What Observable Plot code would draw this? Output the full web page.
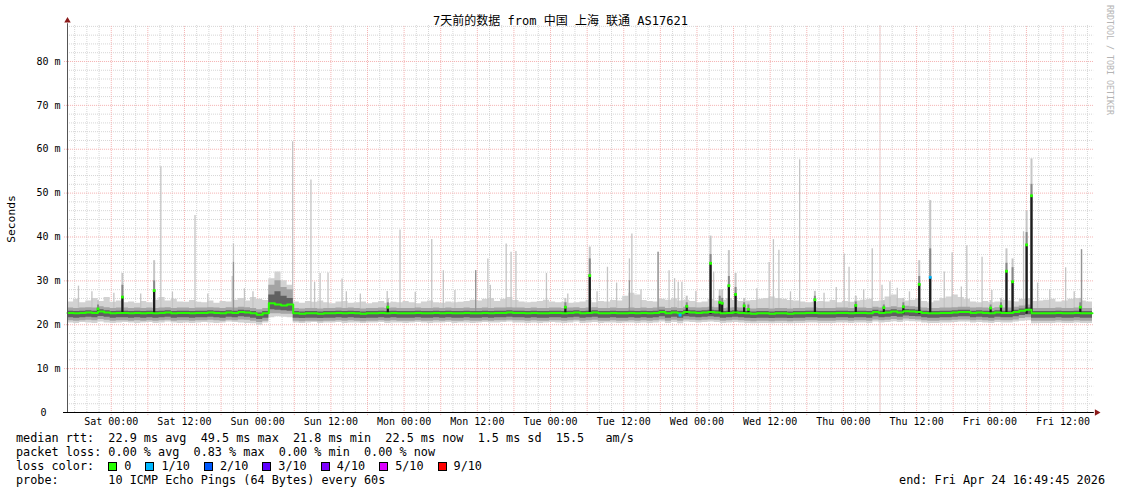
<!DOCTYPE html>
<html><head><meta charset="utf-8">
<script src="https://cdn.jsdelivr.net/npm/d3@7"></script>
<script src="https://cdn.jsdelivr.net/npm/@observablehq/plot@0.6"></script>
<style>
body{margin:0;background:#fff;}
#wrap{position:relative;width:1121px;height:494px;overflow:hidden;background:#fff;font-family:"DejaVu Sans Mono",monospace;color:#000;}
#chart{position:absolute;left:0;top:0;}
.title{position:absolute;left:0;width:1121px;top:13px;text-align:center;font-size:12px;line-height:16px;font-family:"DejaVu Sans Mono","Noto Sans CJK SC",monospace;white-space:pre;}
.ylab{position:absolute;left:11px;top:219px;transform:translate(-50%,-50%) rotate(-90deg);font-size:11.3px;white-space:nowrap;}
.credit{position:absolute;left:1110px;top:60px;transform:translate(-50%,-50%) rotate(90deg);font-size:8.3px;color:#b4b4b4;white-space:nowrap;}
.row{position:absolute;left:16px;font-size:11.8px;line-height:14px;white-space:pre;}
.end{position:absolute;right:16px;font-size:11.8px;line-height:14px;white-space:pre;}
.sw{display:inline-block;width:7px;height:7px;border:1px solid #000;vertical-align:-1px;margin-right:7px;}
.lab{display:inline-block;margin-right:14px;}
</style>
</head><body>
<div id="wrap"></div>
<script>
// ---------- data ----------
const titleText = "7天前的数据 from 中国 上海 联通 AS17621";
const yAxisLabel = "Seconds";
const creditText = "RRDTOOL / TOBI OETIKER";
const startTime = "2026-04-17T16:49:45";
const xTickTimes = ["2026-04-18T00:00","2026-04-18T12:00","2026-04-19T00:00","2026-04-19T12:00","2026-04-20T00:00","2026-04-20T12:00","2026-04-21T00:00","2026-04-21T12:00","2026-04-22T00:00","2026-04-22T12:00","2026-04-23T00:00","2026-04-23T12:00","2026-04-24T00:00","2026-04-24T12:00"];
const xTickLabels = ["Sat 00:00","Sat 12:00","Sun 00:00","Sun 12:00","Mon 00:00","Mon 12:00","Tue 00:00","Tue 12:00","Wed 00:00","Wed 12:00","Thu 00:00","Thu 12:00","Fri 00:00","Fri 12:00"];
const yTicks = [10,20,30,40,50,60,70,80];

// hourly median rtt (ms), hour 0 = start
const med = [22.7,22.6,22.7,22.8,22.7,23.0,22.8,22.6,22.7,22.7,
22.6,22.7,22.6,22.7,22.6,22.7,22.8,22.6,22.7,22.7,
22.6,22.7,22.7,22.8,22.7,22.6,22.8,22.7,22.9,22.8,
22.6,22.3,22.6,24.9,24.6,24.4,24.6,22.6,22.5,22.6,
22.6,22.5,22.6,22.6,22.7,22.6,22.7,22.6,22.5,22.6,
22.6,22.7,22.6,22.7,22.6,22.6,22.6,22.7,22.6,22.6,
22.7,22.6,22.7,22.6,22.6,22.7,22.6,22.6,22.7,22.6,
22.7,22.7,22.8,22.7,22.7,22.6,22.7,22.6,22.6,22.7,
22.7,22.6,22.7,22.8,22.6,22.7,22.8,22.6,22.6,22.7,
22.6,22.6,22.7,22.6,22.7,22.6,22.7,22.9,22.6,22.8,
22.6,22.9,22.8,22.7,22.8,22.9,22.8,22.6,22.7,22.8,
22.7,22.6,22.5,22.6,22.6,22.5,22.6,22.6,22.5,22.6,
22.6,22.7,22.7,22.6,22.6,22.6,22.7,22.7,22.6,22.7,
22.7,22.6,22.9,22.7,22.8,23.0,22.8,23.1,23.0,22.9,
22.7,22.6,22.6,22.7,22.7,22.8,22.9,22.9,22.7,22.8,
22.7,22.6,22.8,22.7,22.7,22.9,23.2,23.4,22.6,22.6,
22.6,22.6,22.7,22.6,22.6,22.7,22.6,22.6];
// hourly smoke top (slowest pings, typical)
const hi = [25.2,25.8,25.0,25.4,26.0,25.3,26.2,25.1,25.4,25.0,
25.2,24.9,25.3,25.0,25.6,26.2,25.4,25.8,25.2,25.1,
25.5,25.1,25.0,25.4,24.9,25.3,25.2,25.6,26.0,25.4,
26.2,25.8,25.5,30.5,32.0,30.0,29.0,25.2,24.9,25.3,
25.1,25.4,25.0,24.8,25.2,25.3,24.9,25.0,25.2,24.8,
25.0,25.3,24.9,25.1,25.0,25.3,25.0,24.8,25.2,25.4,
25.0,24.9,25.2,25.0,25.1,25.3,25.6,25.4,25.8,26.0,
25.3,25.8,26.2,25.5,25.2,25.0,25.1,25.3,25.6,25.2,
25.0,25.1,24.9,25.0,25.2,25.6,25.0,25.3,25.2,25.5,
25.4,26.5,27.2,26.8,25.5,25.3,25.2,25.8,25.6,25.9,
25.4,25.6,25.3,25.0,25.2,25.8,25.4,25.6,26.0,25.5,
25.3,25.4,25.5,25.8,26.0,26.3,26.0,25.8,25.5,25.4,
25.2,25.0,25.1,25.3,25.2,25.5,25.0,25.3,25.1,25.4,
25.6,25.8,25.3,25.4,26.3,26.8,26.0,25.4,25.6,25.8,
25.3,25.0,25.4,26.0,26.3,26.8,26.2,25.8,25.2,25.0,
25.3,25.0,25.2,25.6,25.4,25.2,25.8,26.0,25.3,25.4,
25.6,25.8,25.2,25.4,25.8,26.0,25.4,25.2];
// hourly smoke bottom (fastest pings)
const lo = [20.4,20.3,20.5,20.4,20.3,20.6,20.4,20.3,20.4,20.5,
20.4,20.3,20.4,20.5,20.3,20.4,20.6,20.4,20.3,20.4,
20.3,20.4,20.5,20.4,20.3,20.4,20.6,20.5,20.4,20.3,
20.2,19.9,20.4,21.6,21.8,21.7,21.6,20.4,20.3,20.4,
20.5,20.3,20.4,20.4,20.5,20.3,20.4,20.4,20.3,20.4,
20.4,20.5,20.3,20.4,20.4,20.3,20.4,20.5,20.4,20.3,
20.4,20.4,20.5,20.3,20.4,20.4,20.3,20.4,20.5,20.4,
20.4,20.5,20.6,20.4,20.4,20.3,20.4,20.3,20.4,20.5,
20.4,20.3,20.4,20.6,20.3,20.4,20.5,20.3,20.4,20.4,
20.3,20.4,20.4,20.3,20.4,20.3,20.4,20.6,20.3,20.5,
20.2,20.6,20.5,20.4,20.5,20.6,20.5,20.3,20.4,20.5,
20.4,20.3,20.2,20.3,20.3,20.2,20.3,20.3,20.2,20.3,
20.3,20.4,20.4,20.3,20.3,20.3,20.4,20.4,20.3,20.4,
20.4,20.3,20.6,20.4,20.5,20.7,20.5,20.8,20.7,20.6,
20.4,20.3,20.3,20.4,20.4,20.5,20.6,20.6,20.4,20.5,
20.4,20.3,20.5,20.4,20.4,20.6,20.8,20.9,20.2,20.3,
20.3,20.3,20.4,20.3,20.3,20.4,20.3,20.3];
// Sunday-morning burst: denser smoke
const burstHours = [33,34,35,36];
const burstDarkTop = [26.8,27.5,26.5,26.0];
const burstMidTop = [29.0,30.0,28.5,28.0];
const burstDarkLow = [23.4,23.3,23.2,23.1];
const burstMidLow = [22.5,22.5,22.4,22.4];

// single slow pings (light needles)
const needleHours = [1.8,4.0,7.6,12.0,15.3,17.2,20.9,23.0,27.0,27.2,29.0,30.4,36.9,39.9,40.5,41.4,42.7,45.0,45.7,48.0,52.4,54.5,57.0,59.7,61.6,63.5,66.9,68.9,69.3,71.9,72.7,73.5,78.5,82.0,86.8,88.5,90.0,92.1,92.5,94.0,96.8,98.6,99.5,100.1,100.7,103.0,105.9,113.0,115.0,115.7,116.6,118.5,120.0,124.0,126.0,127.3,128.1,130.5,131.9,133.5,134.8,136.0,138.0,143.7,145.0,146.5,147.4,149.9,151.5,156.7,159.0,161.0,163.6,165.0,166.2];
const needleTops = [28.8,27.5,27.2,27.0,56.0,27.4,44.9,27.0,31.0,38.4,28.2,27.5,61.7,53.0,29.7,31.7,31.8,30.4,27.5,27.0,27.6,41.6,27.4,39.4,32.3,27.8,32.3,35.0,29.0,38.4,36.5,36.7,31.7,27.0,27.5,33.1,29.5,35.0,40.7,28.0,36.5,32.3,30.5,29.7,29.7,27.6,32.0,28.2,34.2,39.4,37.0,27.5,57.6,27.2,28.5,36.1,33.1,28.0,37.3,29.0,29.8,28.3,27.5,32.0,36.4,28.6,38.0,35.4,27.8,41.2,29.5,28.0,33.0,27.5,37.1];
const darkNeedleHours = [27.2,66.9,92.1,96.8,166.2];
const darkNeedleTops = [34.2,32.3,30.0,36.5,37.1];

// median excursions (black bars)
const barHours = [5.0,9.0,14.2,52.5,81.6,85.6,101.5,105.4,106.9,107.3,108.4,109.5,110.9,111.6,122.5,129.2,133.8,137.0,139.6,141.4,151.3,153.0,153.9,154.9,157.2,158.0,166.0];
const barMed = [23.6,26.3,27.8,24.0,24.0,31.2,24.2,34.0,25.1,24.9,28.9,26.9,24.3,23.5,25.7,24.4,23.9,24.1,29.2,30.8,23.8,24.2,32.2,29.8,38.2,49.4,24.0];
const barGrey = [24.5,29.0,30.0,25.0,25.0,35.0,25.0,36.0,26.5,26.0,31.0,28.5,25.0,24.5,26.5,25.2,24.5,25.0,31.0,37.3,24.5,25.0,34.0,33.0,41.0,52.0,25.0];
const barLight = [25.5,31.7,34.6,26.0,26.0,37.7,26.5,40.2,28.0,28.0,36.9,31.7,26.0,25.0,27.6,26.5,25.5,26.0,34.6,48.3,25.5,26.0,37.3,35.0,45.9,57.8,26.0];
const barLoss = [0,0,0,0,0,0,0,0,0,0,0,0,0,0,0,0,0,0,0,1,0,0,0,0,0,0,0];
const lossDotHours = [100.4];
const lossDotValues = [22.2];
const lossDotLevels = [1];

const lossLabels = ["0","1/10","2/10","3/10","4/10","5/10","9/10"];
const lossColors = ["#26ff00","#00b8ff","#0059ff","#5e00ff","#7e00ff","#dd00ff","#ff0000"];
const medianStats = ["22.9 ms avg","49.5 ms max","21.8 ms min","22.5 ms now","1.5 ms sd","15.5   am/s"];
const lossStats = ["0.00 % avg","0.83 % max","0.00 % min","0.00 % now"];
const probeText = "10 ICMP Echo Pings (64 Bytes) every 60s";
const endText = "end: Fri Apr 24 16:49:45 2026";

// ---------- build ----------
const t0 = Date.parse(startTime + "Z");
const hourOf = s => (Date.parse(s + "Z") - t0) / 3.6e6;
const tickHours = xTickTimes.map(hourOf);
const labelOf = new Map(tickHours.map((h, i) => [h, xTickLabels[i]]));
const sat0 = tickHours[0];
const minorV = d3.range(hourOf("2026-04-17T18:00"), 168.01, 2).filter(h => !(h > sat0 - 0.1 && Math.abs(((h - sat0) % 6 + 6) % 6) < 0.01));
const majorV = d3.range(sat0, 168.01, 6);
const minorH = d3.range(2, 89, 2).filter(v => v % 10 !== 0);
const majorH = [10,20,30,40,50,60,70,80];

const bIdx = new Map(burstHours.map((h, i) => [h, i]));
const rows = med.map((m, i) => {
  const b = bIdx.get(i);
  return {h: i, med: m, hi: hi[i], lo: lo[i],
    darkTop: b === undefined ? m + 0.4 : burstDarkTop[b],
    midTop: b === undefined ? m + 1.1 : burstMidTop[b],
    darkLow: b === undefined ? m - 1.1 : burstDarkLow[b],
    midLow: b === undefined ? m - 1.8 : burstMidLow[b]};
});
rows.push({...rows[rows.length - 1], h: 168});
const needles = needleHours.map((h, i) => ({h, top: needleTops[i]}));
const darkNeedles = darkNeedleHours.map((h, i) => ({h, top: darkNeedleTops[i]}));
const bars = barHours.map((h, i) => ({h, med: barMed[i], grey: barGrey[i], light: barLight[i], loss: barLoss[i]}));
const lossDots = lossDotHours.map((h, i) => ({h, v: lossDotValues[i], loss: lossDotLevels[i]}));
const base = 22.4;

const chart = Plot.plot({
  width: 1121, height: 430,
  marginLeft: 67, marginRight: 29, marginTop: 25, marginBottom: 18,
  x: {domain: [0, 168], axis: null},
  y: {domain: [0, 88.2], axis: null},
  style: {background: "transparent", fontFamily: "DejaVu Sans Mono, monospace", fontSize: "10px", color: "#000", overflow: "visible"},
  marks: [
    Plot.ruleY(minorH, {x1: 0, x2: 168.2, stroke: "#d6d6d6", strokeDasharray: "1,1"}),
    Plot.ruleX(minorV, {y1: 0, y2: 88.2, stroke: "#d6d6d6", strokeDasharray: "1,1"}),
    Plot.ruleY(majorH, {x1: -0.5, x2: 168.2, stroke: "#f4b0b0", strokeDasharray: "1,1"}),
    Plot.ruleX(majorV, {y1: -0.7, y2: 88.2, stroke: "#f4b0b0", strokeDasharray: "1,1"}),
    // smoke
    Plot.areaY(rows, {x: "h", y1: "lo", y2: "hi", curve: "step-after", fill: "#d2d2d2"}),
    Plot.ruleX(needles, {x: "h", y1: base, y2: "top", stroke: "#c4c4c4", strokeWidth: 1.3}),
    Plot.ruleX(bars, {x: "h", y1: base, y2: "light", stroke: "#c6c6c6", strokeWidth: 2}),
    Plot.areaY(rows, {x: "h", y1: "midLow", y2: "midTop", curve: "step-after", fill: "#a4a4a4"}),
    Plot.ruleX(darkNeedles, {x: "h", y1: base, y2: "top", stroke: "#949494", strokeWidth: 1.3}),
    Plot.ruleX(bars, {x: "h", y1: base, y2: "grey", stroke: "#888888", strokeWidth: 2}),
    Plot.areaY(rows, {x: "h", y1: "darkLow", y2: "darkTop", curve: "step-after", fill: "#606060"}),
    Plot.ruleX(bars, {x: "h", y1: base, y2: "med", stroke: "#1c1c1c", strokeWidth: 2.2}),
    // median line
    Plot.line(rows, {x: "h", y: "med", curve: "step-after", stroke: lossColors[0], strokeWidth: 2}),
    Plot.dot(bars, {x: "h", y: "med", symbol: "square", r: 1.6, fill: d => lossColors[d.loss], stroke: null}),
    Plot.dot(lossDots, {x: "h", y: "v", symbol: "square", r: 1.7, fill: d => lossColors[d.loss], stroke: null}),
    // axes
    Plot.ruleX([0], {y1: 0, y2: 88.6, stroke: "#555"}),
    Plot.ruleY([0], {x1: -0.65, x2: 168.3, stroke: "#000"}),
    Plot.dot([{h: 0, v: 89.3}], {x: "h", y: "v", symbol: "triangle", r: 2.4, fill: "#8b1a1a", stroke: null}),
    Plot.dot([{h: 168.7, v: 0}], {x: "h", y: "v", symbol: "triangle", r: 2.4, rotate: 90, fill: "#8b1a1a", stroke: null}),
    Plot.axisY({ticks: yTicks, tickFormat: d => d + " m", tickSize: 0, tickPadding: 7, fill: "#000", label: null}),
    Plot.text(["0"], {x: 0, y: 0, dx: -21, textAnchor: "end", fill: "#000"}),
    Plot.axisX({ticks: tickHours, tickFormat: d => labelOf.get(d), tickSize: 0, tickPadding: 5, fill: "#000", label: null})
  ]
});
chart.id = "chart";

const wrap = document.getElementById("wrap");
wrap.appendChild(chart);
const add = (cls, html, style) => { const d = document.createElement("div"); d.className = cls; d.innerHTML = html; if (style) d.style.cssText = style; wrap.appendChild(d); return d; };
add("title").textContent = titleText;
add("ylab").textContent = yAxisLabel;
add("credit").textContent = creditText;
add("row", "", "top:431px").textContent = "median rtt:  " + medianStats.join("  ");
add("row", "", "top:445px").textContent = "packet loss: " + lossStats.join("  ");
const r3 = add("row", "", "top:459px");
r3.appendChild(document.createTextNode("loss color:  "));
lossLabels.forEach((l, i) => {
  const s = document.createElement("span"); s.className = "sw"; s.style.background = lossColors[i]; r3.appendChild(s);
  const t = document.createElement("span"); t.className = "lab"; t.textContent = l; r3.appendChild(t);
});
add("row", "", "top:473px").textContent = "probe:       " + probeText;
add("end", "", "top:473px").textContent = endText;
</script>
</body></html>
